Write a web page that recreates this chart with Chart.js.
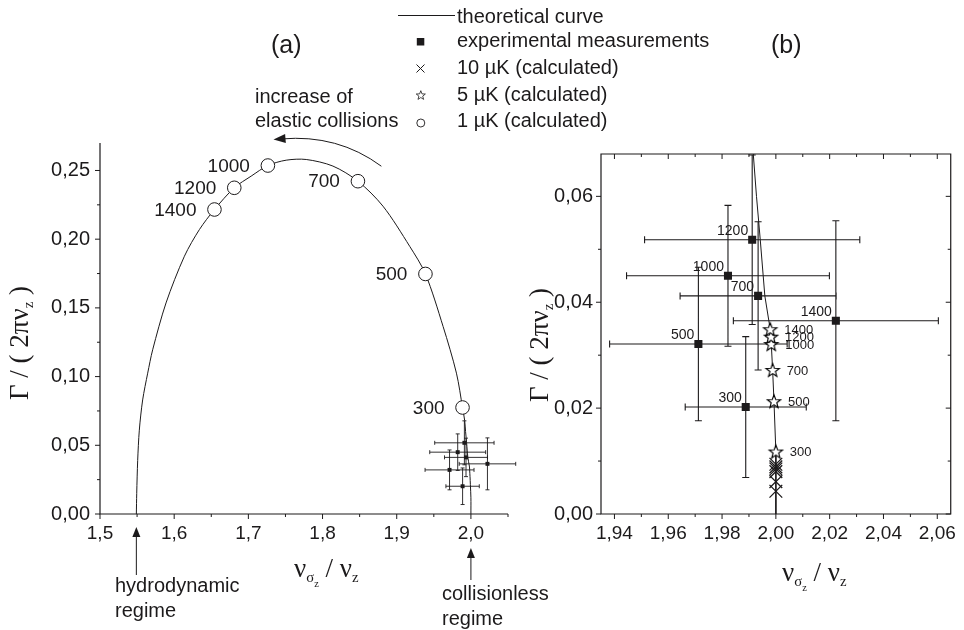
<!DOCTYPE html>
<html>
<head>
<meta charset="utf-8">
<script src="https://cdn.jsdelivr.net/npm/chart.js@4.4.1/dist/chart.umd.min.js"></script>
<style>
  html, body { margin:0; padding:0; background:#fff; }
  #wrap { position:relative; width:964px; height:630px; overflow:hidden; background:#fff; color:#1c1a1b; }
  .pane { position:absolute; top:0; }
  .t { position:absolute; white-space:nowrap; line-height:1; }
  .sb { font-size:0.55em; vertical-align:-0.32em; }
  .sb2 { font-size:0.7em; vertical-align:-0.45em; }
  #lg { position:absolute; left:0; top:0; }
</style>
</head>
<body>
<div id="wrap">
  <canvas id="ca" class="pane" width="540" height="630" style="left:0"></canvas>
  <canvas id="cb" class="pane" width="424" height="630" style="left:540px"></canvas>
  <svg id="lg" width="964" height="630"></svg>
</div>
<script>
// ---------------- DATA ----------------
const temps = [300, 500, 700, 1000, 1200, 1400];

// theoretical curve
const theoryX = [1.549, 1.5495, 1.5508, 1.553, 1.5575, 1.5643, 1.571, 1.589, 1.6138, 1.634, 1.6543, 1.681, 1.7038, 1.7263,
  1.751, 1.778, 1.814, 1.8477, 1.8815, 1.9175, 1.9387, 1.9625, 1.9805, 1.9887, 1.9916, 1.9928, 1.9942, 1.9959,
  1.9979, 1.9982, 1.9983, 1.9988, 1.9993, 2.0000, 2.0000];
const theoryY = [0.000, 0.015, 0.039, 0.061, 0.083, 0.1025, 0.1195, 0.1536, 0.1876, 0.207, 0.2216, 0.2374, 0.2459, 0.2536,
  0.2575, 0.258, 0.2532, 0.2422, 0.224, 0.1948, 0.1747, 0.1365, 0.1025, 0.0775, 0.068, 0.060, 0.0518, 0.0412,
  0.0349, 0.0335, 0.0321, 0.0272, 0.0213, 0.0118, 0.000];

// experimental measurements (order of temps)
const expX    = [1.9888, 1.9712, 1.9934, 1.9822, 1.9912, 2.0223];
const expY    = [0.0202, 0.0321, 0.0412, 0.0450, 0.0518, 0.0365];
const expXerr = [0.0225, 0.0330, 0.0290, 0.0377, 0.0400, 0.0381];
const expYerr = [0.0133, 0.0145, 0.0140, 0.0133, 0.0160, 0.0189];

// 1 µK (calculated)
const calc1X = [1.9887, 1.9387, 1.8477, 1.7263, 1.6810, 1.6543];
const calc1Y = [0.0775, 0.1747, 0.2422, 0.2536, 0.2374, 0.2216];
// 5 µK (calculated)
const calc5X = [2.0000, 1.9993, 1.9988, 1.9983, 1.9982, 1.9979];
const calc5Y = [0.0118, 0.0213, 0.0272, 0.0321, 0.0335, 0.0349];
// 10 µK (calculated)
const calc10X = [2.0000, 2.0000, 2.0000, 2.0000, 2.0000, 2.0000];
const calc10Y = [0.0043, 0.0061, 0.0080, 0.0085, 0.0089, 0.0094];

// ---------------- HELPERS ----------------
const INK = '#1c1a1b';
const SANS = '"Liberation Sans", Arial, Helvetica, sans-serif';
const SERIF = '"Liberation Serif", "Times New Roman", serif';
const fmt = (v, d) => Number(v).toFixed(d).replace('.', ',');
const pts = (xs, ys) => xs.map((x, i) => ({x, y: ys[i]}));

function makeStar(R, lw) {
  const size = Math.ceil(2 * R + 4);
  const c = document.createElement('canvas');
  c.width = size; c.height = size;
  const g = c.getContext('2d');
  const cx = size / 2, cy = size / 2 + 0.0955 * R, r = R * 0.42;
  g.beginPath();
  for (let i = 0; i < 10; i++) {
    const a = -Math.PI / 2 + i * Math.PI / 5, d = i % 2 ? r : R;
    g.lineTo(cx + d * Math.cos(a), cy + d * Math.sin(a));
  }
  g.closePath();
  g.fillStyle = '#fff'; g.fill();
  g.lineWidth = lw; g.strokeStyle = '#000'; g.stroke();
  return c;
}
const starImg = makeStar(7, 1.15);

function scaleOpts(min, max, step, dec, size, pad, fit) {
  return {
    type: 'linear', min, max,
    grid: {display: false, drawTicks: false},
    border: {display: false},
    ticks: {stepSize: step, includeBounds: false, autoSkip: false, maxRotation: 0, padding: pad, color: INK,
      font: {family: SANS, size}, callback: v => fmt(v, dec)},
    afterFit: fit
  };
}

// ticks (major + minor) and axis lines, positioned through the chart's scales
function axisPlugin(cfg) {
  return {
    id: 'axisdeco',
    afterDraw(chart) {
      const {ctx, chartArea: a, scales: {x, y}} = chart;
      ctx.save();
      ctx.strokeStyle = INK; ctx.lineWidth = 1;
      ctx.beginPath();
      for (let k = 0; ; k++) {
        const v = cfg.x0 + k * cfg.xm;
        if (v > x.max + 1e-9) break;
        const len = k % 2 === 0 ? cfg.maj : cfg.min;
        const px = x.getPixelForValue(v);
        ctx.moveTo(px, a.bottom); ctx.lineTo(px, a.bottom + len);
        if (cfg.box) { ctx.moveTo(px, a.top); ctx.lineTo(px, a.top + len); }
      }
      for (let k = 0; ; k++) {
        const v = cfg.y0 + k * cfg.ym;
        if (v > y.max + 1e-9) break;
        const len = k % 2 === 0 ? cfg.maj : cfg.min;
        const py = y.getPixelForValue(v);
        ctx.moveTo(a.left, py); ctx.lineTo(a.left - len, py);
        if (cfg.box) { ctx.moveTo(a.right, py); ctx.lineTo(a.right - len, py); }
      }
      ctx.stroke();
      ctx.lineWidth = 1.2;
      ctx.beginPath();
      if (cfg.box) {
        ctx.rect(a.left, a.top, a.right - a.left, a.bottom - a.top);
      } else {
        ctx.moveTo(a.left, a.top); ctx.lineTo(a.left, a.bottom); ctx.lineTo(a.right, a.bottom);
      }
      ctx.stroke();
      ctx.restore();
    }
  };
}

function errPlugin(capHalf, lw) {
  return {
    id: 'errbars',
    beforeDatasetsDraw(chart) {
      const {ctx, scales: {x, y}} = chart;
      ctx.save(); ctx.strokeStyle = INK; ctx.lineWidth = lw;
      ctx.beginPath();
      expX.forEach((xv, i) => {
        const yv = expY[i];
        const x0 = x.getPixelForValue(xv - expXerr[i]), x1 = x.getPixelForValue(xv + expXerr[i]);
        const y0 = y.getPixelForValue(yv - expYerr[i]), y1 = y.getPixelForValue(yv + expYerr[i]);
        const px = x.getPixelForValue(xv), py = y.getPixelForValue(yv);
        ctx.moveTo(x0, py); ctx.lineTo(x1, py);
        ctx.moveTo(x0, py - capHalf); ctx.lineTo(x0, py + capHalf);
        ctx.moveTo(x1, py - capHalf); ctx.lineTo(x1, py + capHalf);
        ctx.moveTo(px, y0); ctx.lineTo(px, y1);
        ctx.moveTo(px - capHalf, y0); ctx.lineTo(px + capHalf, y0);
        ctx.moveTo(px - capHalf, y1); ctx.lineTo(px + capHalf, y1);
      });
      ctx.stroke(); ctx.restore();
    }
  };
}

function arrowHead(ctx, tx, ty, dx, dy, len, hw) {
  const n = Math.hypot(dx, dy); dx /= n; dy /= n;
  const bx = tx - dx * len, by = ty - dy * len;
  ctx.beginPath();
  ctx.moveTo(tx, ty);
  ctx.lineTo(bx - dy * hw, by + dx * hw);
  ctx.lineTo(bx + dy * hw, by - dx * hw);
  ctx.closePath(); ctx.fill();
}

// ---------------- CHART (a) ----------------
const labelsA = {
  id: 'labelsA',
  afterDatasetsDraw(chart) {
    const {ctx, scales: {x, y}} = chart;
    ctx.save(); ctx.fillStyle = INK; ctx.font = '19px ' + SANS;
    ctx.textAlign = 'right'; ctx.textBaseline = 'middle';
    calc1X.forEach((xv, i) => ctx.fillText(String(temps[i]), x.getPixelForValue(xv) - 18, y.getPixelForValue(calc1Y[i]) + 1));
    ctx.restore();
  }
};
const arrowsA = {
  id: 'arrowsA',
  afterDraw(chart) {
    const {ctx, chartArea: a, scales: {x, y}} = chart;
    ctx.save(); ctx.strokeStyle = INK; ctx.fillStyle = INK; ctx.lineWidth = 1;
    // "increase of elastic collisions" arrow (anchored in data units)
    const arc = {from: [1.8793, 0.2531], ctrl: [1.8206, 0.2765], to: [1.7339, 0.2726]};
    const P = p => [x.getPixelForValue(p[0]), y.getPixelForValue(p[1])];
    const p0 = P(arc.from), c = P(arc.ctrl), p2 = P(arc.to);
    ctx.beginPath(); ctx.moveTo(p0[0], p0[1]); ctx.quadraticCurveTo(c[0], c[1], p2[0] + 8, p2[1] - 0.5); ctx.stroke();
    arrowHead(ctx, p2[0], p2[1], p2[0] - c[0], p2[1] - c[1], 12, 4.5);
    // regime arrows below the axis
    const hx = x.getPixelForValue(theoryX[0]);
    ctx.beginPath(); ctx.moveTo(hx, a.bottom + 61); ctx.lineTo(hx, a.bottom + 20); ctx.stroke();
    arrowHead(ctx, hx, a.bottom + 13, 0, -1, 10, 4);
    const cx = x.getPixelForValue(theoryX[theoryX.length - 1]);
    ctx.beginPath(); ctx.moveTo(cx, a.bottom + 66); ctx.lineTo(cx, a.bottom + 41); ctx.stroke();
    arrowHead(ctx, cx, a.bottom + 34, 0, -1, 10, 4);
    ctx.restore();
  }
};

new Chart(document.getElementById('ca'), {
  type: 'scatter',
  data: {datasets: [
    {label: 'theoretical curve', data: pts(theoryX, theoryY), showLine: true, borderColor: INK, borderWidth: 1,
      pointRadius: 0, tension: 0.3, order: 5},
    {label: 'experimental measurements', data: pts(expX, expY), pointStyle: 'rect', pointRadius: 2.8,
      backgroundColor: INK, borderColor: INK, borderWidth: 0, order: 1},
    {label: '1 µK (calculated)', data: pts(calc1X, calc1Y), pointStyle: 'circle', pointRadius: 6.8,
      backgroundColor: '#fff', borderColor: INK, borderWidth: 1, order: 0}
  ]},
  options: {
    responsive: false, animation: false, events: [],
    layout: {padding: {left: 0, top: 143, right: 32, bottom: 76}, autoPadding: false},
    plugins: {legend: {display: false}, tooltip: {enabled: false}},
    scales: {
      x: scaleOpts(1.5, 2.05, 0.1, 1, 19, 8, s => { s.height = 40; }),
      y: scaleOpts(0, 0.27, 0.05, 2, 20, 10, s => { s.width = 100; })
    }
  },
  plugins: [axisPlugin({x0: 1.5, xm: 0.05, y0: 0, ym: 0.025, maj: 5, min: 3, box: false}), errPlugin(2, 0.9), labelsA, arrowsA]
});

// ---------------- CHART (b) ----------------
const labelsB = {
  id: 'labelsB',
  afterDatasetsDraw(chart) {
    const {ctx, scales: {x, y}} = chart;
    ctx.save(); ctx.fillStyle = INK;
    ctx.font = '14px ' + SANS; ctx.textAlign = 'right'; ctx.textBaseline = 'alphabetic';
    expX.forEach((xv, i) => ctx.fillText(String(temps[i]), x.getPixelForValue(xv) - 4, y.getPixelForValue(expY[i]) - 5));
    ctx.font = '13px ' + SANS; ctx.textAlign = 'left'; ctx.textBaseline = 'middle';
    calc5X.forEach((xv, i) => ctx.fillText(String(temps[i]), x.getPixelForValue(xv) + 14, y.getPixelForValue(calc5Y[i]) + 1));
    ctx.restore();
  }
};

new Chart(document.getElementById('cb'), {
  type: 'scatter',
  data: {datasets: [
    {label: 'theoretical curve', data: pts(theoryX, theoryY), showLine: true, borderColor: INK, borderWidth: 1,
      pointRadius: 0, tension: 0, order: 5},
    {label: 'experimental measurements', data: pts(expX, expY), pointStyle: 'rect', pointRadius: 5.7,
      backgroundColor: INK, borderColor: INK, borderWidth: 0, order: 1},
    {label: '10 µK (calculated)', data: pts(calc10X, calc10Y), pointStyle: 'crossRot', pointRadius: 9,
      borderColor: INK, borderWidth: 1.3, order: 2},
    {label: '5 µK (calculated)', data: pts(calc5X, calc5Y), pointStyle: starImg, pointRadius: 7, order: 0}
  ]},
  options: {
    responsive: false, animation: false, events: [],
    layout: {padding: {left: 0, top: 154, right: 6, bottom: 76}, autoPadding: false},
    plugins: {legend: {display: false}, tooltip: {enabled: false}},
    scales: {
      x: scaleOpts(1.935, 2.065, 0.02, 2, 19, 8, s => { s.height = 40; }),
      y: scaleOpts(0, 0.068, 0.02, 2, 20, 8, s => { s.width = 61; })
    }
  },
  plugins: [axisPlugin({x0: 1.94, xm: 0.01, y0: 0, ym: 0.01, maj: 5, min: 3, box: true}), errPlugin(3.5, 1.1), labelsB]
});

// ---------------- TEXT & LEGEND ----------------
const wrap = document.getElementById('wrap');
function addText(html, left, baseline, size, serif) {
  const d = document.createElement('div');
  d.className = 't';
  d.style.left = left + 'px';
  d.style.top = (baseline - (serif ? 0.8375 : 0.8465) * size) + 'px';
  d.style.fontSize = size + 'px';
  d.style.fontFamily = serif ? SERIF : SANS;
  d.innerHTML = html;
  wrap.appendChild(d);
}
function addRot(html, cx, cy, size) {
  const d = document.createElement('div');
  d.className = 't';
  d.style.left = cx + 'px'; d.style.top = cy + 'px';
  d.style.fontSize = size + 'px'; d.style.fontFamily = SERIF;
  d.style.transform = 'translate(-50%,-50%) rotate(-90deg)';
  d.innerHTML = html;
  wrap.appendChild(d);
}

const legendLabels = ['theoretical curve', 'experimental measurements', '10 µK (calculated)', '5 µK (calculated)', '1 µK (calculated)'];
const legendBase = [23.3, 46.7, 74, 100.7, 127.3];
legendLabels.forEach((s, i) => addText(s, 457, legendBase[i], 20, false));

addText('increase of', 255, 102.7, 20, false);
addText('elastic collisions', 255, 126.7, 20, false);
addText('(a)', 271, 53, 25, false);
addText('(b)', 771, 53, 25, false);
addText('hydrodynamic', 115, 592, 20, false);
addText('regime', 115, 617, 20, false);
addText('collisionless', 442, 600, 20, false);
addText('regime', 442, 625, 20, false);

const xTitle = 'ν<span class="sb">σ<span class="sb2">z</span></span> / ν<span class="sb">z</span>';
const yTitle = 'Γ / ( 2πν<span class="sb">z</span> )';
addText(xTitle, 294, 578, 27, true);
addText(xTitle, 782, 582, 27, true);
addRot(yTitle, 21, 343, 27);
addRot(yTitle, 541, 345, 27);

// legend markers
const svg = document.getElementById('lg');
const NS = 'http://www.w3.org/2000/svg';
function el(tag, attrs) {
  const e = document.createElementNS(NS, tag);
  for (const k in attrs) e.setAttribute(k, attrs[k]);
  svg.appendChild(e); return e;
}
el('line', {x1: 398, y1: 15.5, x2: 455, y2: 15.5, stroke: INK, 'stroke-width': 1});
el('rect', {x: 416.8, y: 38, width: 7.5, height: 7.5, fill: INK});
el('path', {d: 'M416.5 64.5 L424.5 72.5 M424.5 64.5 L416.5 72.5', stroke: INK, 'stroke-width': 1, fill: 'none'});
(function () {
  const R = 4.8, r = R * 0.42, cx = 420.8, cy = 95.5; const p = [];
  for (let i = 0; i < 10; i++) { const a = -Math.PI / 2 + i * Math.PI / 5, d = i % 2 ? r : R; p.push((cx + d * Math.cos(a)).toFixed(2) + ',' + (cy + d * Math.sin(a)).toFixed(2)); }
  el('polygon', {points: p.join(' '), fill: '#fff', stroke: INK, 'stroke-width': 0.8});
})();
el('circle', {cx: 420.8, cy: 123, r: 4, fill: '#fff', stroke: INK, 'stroke-width': 0.9});
</script>
</body>
</html>
